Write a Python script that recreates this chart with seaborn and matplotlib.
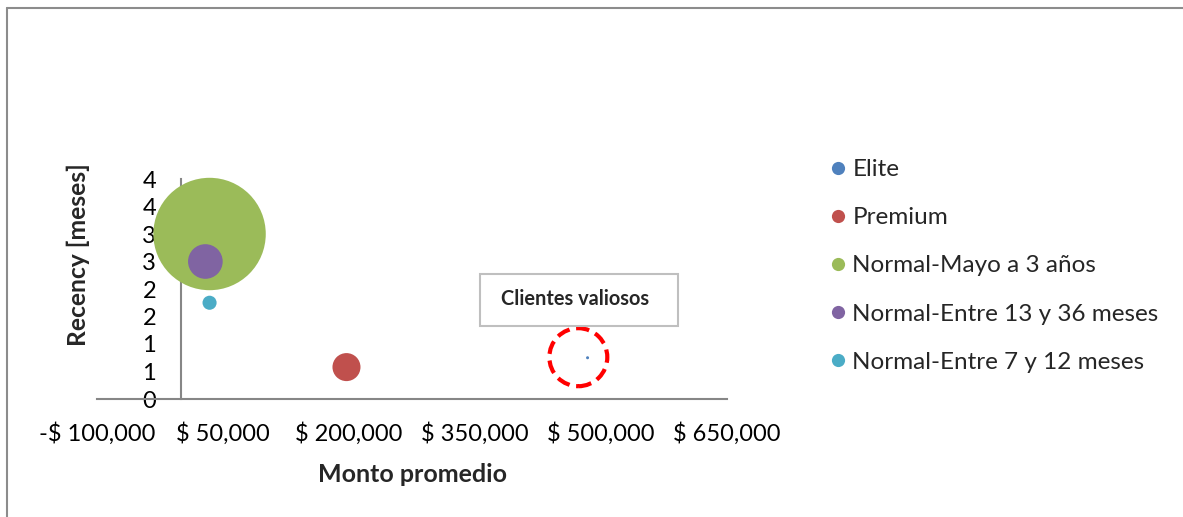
import numpy as np
import pandas as pd
import matplotlib
matplotlib.use("Agg")
import matplotlib.pyplot as plt
from matplotlib.lines import Line2D
from matplotlib.patches import Ellipse, Rectangle
from matplotlib.ticker import FuncFormatter
import seaborn as sns

# Segment data
segmentos = ["Elite", "Premium", "Normal-Mayo a 3 años",
             "Normal-Entre 13 y 36 meses", "Normal-Entre 7 y 12 meses"]
monto_promedio = [484000, 197000, 34000, 29000, 34000]
recency_meses = [0.75, 0.58, 3.0, 2.5, 1.75]
clientes = [1, 87, 1400, 133, 22]
colores = ["#4F81BD", "#C0504D", "#9BBB59", "#8064A2", "#4BACC6"]

x_ticks = [-100000, 50000, 200000, 350000, 500000, 650000]
y_ticks = [0, 0.5, 1, 1.5, 2, 2.5, 3, 3.5, 4]

df = pd.DataFrame({"segmento": segmentos, "monto": monto_promedio,
                   "recency": recency_meses, "clientes": clientes})

sns.set_theme(style="white")
plt.rcParams["font.family"] = ["Lato", "DejaVu Sans"]

fig = plt.figure(figsize=(11.83, 5.17), dpi=100)
W, H = 1183, 517
ax = fig.add_axes([97 / W, 118 / H, 630 / W, 220 / H])

sns.scatterplot(data=df, x="monto", y="recency", hue="segmento",
                palette=dict(zip(segmentos, colores)), size="clientes",
                sizes=(0, 6550), size_norm=(0, max(clientes)),
                linewidth=0, legend=False, clip_on=False, ax=ax, zorder=3)

ax.set_xlim(x_ticks[0], x_ticks[-1])
ax.set_ylim(y_ticks[0], y_ticks[-1])
ax.set_xticks(x_ticks)
ax.set_yticks(y_ticks)


def fmt_money(v, _):
    s = f"$ {abs(v):,.0f}"
    return "-" + s if v < 0 else s


ax.xaxis.set_major_formatter(FuncFormatter(fmt_money))
ax.yaxis.set_major_formatter(FuncFormatter(lambda v, _: f"{int(np.floor(v + 0.5))}"))
ax.tick_params(axis="x", length=0, pad=17, labelsize=17, colors="black")
ax.tick_params(axis="y", length=0, pad=18, labelsize=17, colors="black")

for side in ("top", "right"):
    ax.spines[side].set_visible(False)
ax.spines["left"].set_position(("data", 0))
for side in ("left", "bottom"):
    ax.spines[side].set_color("#868686")
    ax.spines[side].set_linewidth(1.5)

ax.set_xlabel("")
ax.set_ylabel("")
fig.text(412 / W, 1 - 474 / H, "Monto promedio", ha="center", va="center",
         fontsize=18, fontweight="bold")
fig.text(78 / W, 1 - 255 / H, "Recency [meses]", ha="center", va="center",
         rotation=90, fontsize=17.7, fontweight="bold")

# Highlight of the most valuable segment
ax.add_patch(Ellipse((monto_promedio[0] - 11000, recency_meses[0] + 0.01),
                     width=69000, height=1.055, fill=False, edgecolor="#FF0000",
                     linewidth=3, linestyle=(0, (3.2, 1.6)), zorder=4, clip_on=False))
fig.patches.append(Rectangle((480 / W, 1 - 326 / H), 198 / W, 52 / H,
                             transform=fig.transFigure, facecolor="white",
                             edgecolor="#BFBFBF", linewidth=1.5))
fig.text(501 / W, 1 - 299 / H, "Clientes valiosos", ha="left", va="center",
         fontsize=14.4, fontweight="bold")

# Legend
handles = [Line2D([0], [0], marker="o", linestyle="", markersize=9.5,
                  markerfacecolor=c, markeredgewidth=0) for c in colores]
fig.legend(handles, segmentos, loc="upper left",
           bbox_to_anchor=(828 / W, 1 - 159 / H), frameon=False,
           fontsize=17.5, labelspacing=1.12, handletextpad=0.2,
           handlelength=0.8, borderpad=0, borderaxespad=0)

# Outer frame (left and top edges)
fig.add_artist(Line2D([7 / W, 7 / W], [0, 1 - 8 / H], transform=fig.transFigure,
                      color="#8C8C8C", linewidth=1.5))
fig.add_artist(Line2D([7 / W, 1], [1 - 8 / H, 1 - 8 / H], transform=fig.transFigure,
                      color="#8C8C8C", linewidth=1.5))

fig.savefig("out.png", dpi=100)
